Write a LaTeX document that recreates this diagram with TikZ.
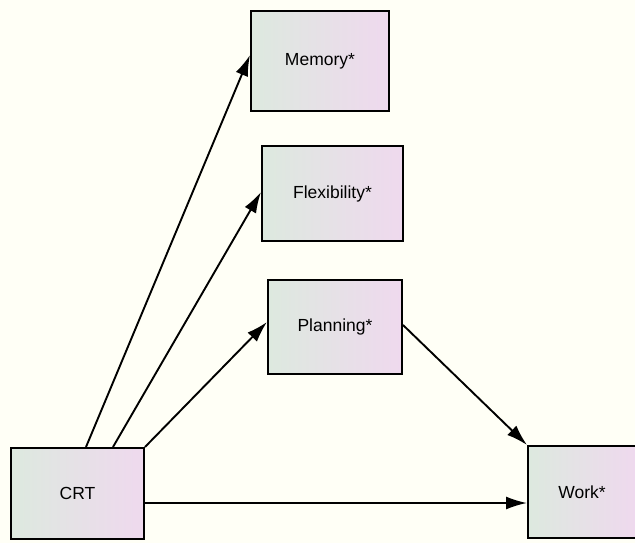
\documentclass[tikz,border=0pt]{standalone}
\usepackage{fontspec}
\setmainfont{Liberation Sans}
\usetikzlibrary{arrows.meta,shadings}
\definecolor{bgc}{HTML}{FFFFF6}
\definecolor{lc}{HTML}{DDE9DF}
\definecolor{rc}{HTML}{EFD9EE}
\tikzset{
  box/.style={draw=black, line width=2pt, left color=lc, right color=rc, anchor=north west, inner sep=0pt, font=\fontsize{17.5}{20}\selectfont},
  conn/.style={line width=1.9pt, -{Latex[length=21pt,width=13pt]}}
}
\begin{document}
\begin{tikzpicture}[x=1pt,y=-1pt]
\fill[bgc] (0,0) rectangle (635,543);
\useasboundingbox (0,0) rectangle (635,543);
\node[box, minimum width=138pt, minimum height=100pt] (mem) at (250,10) {Memory*};
\node[box, minimum width=141pt, minimum height=95pt] (flex) at (261,145) {Flexibility*};
\node[box, minimum width=134pt, minimum height=94pt] (plan) at (267,279) {Planning*};
\node[box, minimum width=133pt, minimum height=91pt] (crt) at (10,447) {CRT};
\node[box, minimum width=108pt, minimum height=92pt] (work) at (527,445) {Work*};
\coordinate (c1) at (86,447);
\coordinate (c2) at (113,447);
\draw[conn] (c1) -- (mem.west |- 0,55);
\draw[conn] (c2) -- (flex.west |- 0,192);
\draw[conn] (crt.north east) -- (plan.west |- 0,322);
\draw[conn] (plan.east |- 0,325) -- (work.north west);
\draw[conn] (crt.east |- 0,503) -- (work.west |- 0,503);
\end{tikzpicture}
\end{document}
